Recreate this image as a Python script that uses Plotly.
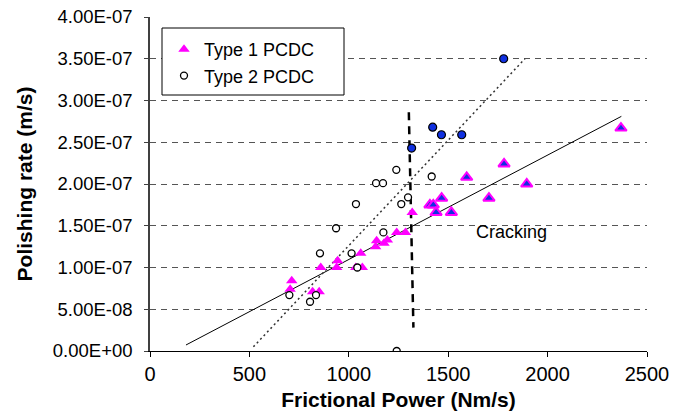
import plotly.graph_objects as go

# ---- data ----
t1_x = [713, 705, 818, 851, 859, 939, 944, 1035, 1068, 1060, 1135, 1140, 1177, 1194, 1241, 1285, 1319]
t1_y = [0.84e-7, 0.74e-7, 0.71e-7, 0.71e-7, 1.00e-7, 1.00e-7, 1.08e-7, 1.00e-7, 1.00e-7, 1.17e-7,
        1.25e-7, 1.32e-7, 1.29e-7, 1.33e-7, 1.42e-7, 1.42e-7, 1.66e-7]

t1c_x = [1408, 1425, 1439, 1467, 1516, 1593, 1705, 1781, 1895, 2369]
t1c_y = [1.75e-7, 1.75e-7, 1.66e-7, 1.83e-7, 1.66e-7, 2.08e-7, 1.83e-7, 2.24e-7, 2.00e-7, 2.67e-7]

t2_x = [701, 805, 835, 855, 936, 1014, 1036, 1043, 1137, 1172, 1174, 1239, 1241, 1264, 1298, 1417]
t2_y = [0.67e-7, 0.59e-7, 0.67e-7, 1.17e-7, 1.47e-7, 1.17e-7, 1.76e-7, 1.00e-7, 2.01e-7, 2.01e-7,
        1.42e-7, 2.17e-7, 0.0, 1.76e-7, 1.84e-7, 2.09e-7]

t2c_x = [1316, 1422, 1466, 1568, 1779]
t2c_y = [2.43e-7, 2.68e-7, 2.59e-7, 2.59e-7, 3.50e-7]

trend1_x = [181, 2371]
trend1_y = [0.072e-7, 2.81e-7]
trend2_x = [520, 1886]
trend2_y = [0.05e-7, 3.50e-7]
crack_x = [1302, 1325]
crack_y = [2.86e-7, 0.28e-7]

x_ticks = [0, 500, 1000, 1500, 2000, 2500]
y_ticks = [0, 0.5e-7, 1.0e-7, 1.5e-7, 2.0e-7, 2.5e-7, 3.0e-7, 3.5e-7, 4.0e-7]
y_tick_labels = ["0.00E+00", "5.00E-08", "1.00E-07", "1.50E-07", "2.00E-07",
                 "2.50E-07", "3.00E-07", "3.50E-07", "4.00E-07"]

FONT = "Liberation Sans, Arial, sans-serif"
MAGENTA = "#ff00ff"
BLUE = "#1030e0"

fig = go.Figure()

fig.add_trace(go.Scatter(x=trend1_x, y=trend1_y, mode="lines",
                         line=dict(color="black", width=1), showlegend=False, hoverinfo="skip"))
fig.add_trace(go.Scatter(x=trend2_x, y=trend2_y, mode="lines",
                         line=dict(color="#333333", width=1.5, dash="2px,3px"),
                         showlegend=False, hoverinfo="skip"))
fig.add_trace(go.Scatter(x=crack_x, y=crack_y, mode="lines",
                         line=dict(color="black", width=2.5, dash="8px,6px"),
                         showlegend=False, hoverinfo="skip"))

fig.add_trace(go.Scatter(x=t1_x, y=t1_y, mode="markers", name="Type 1 PCDC",
                         marker=dict(symbol="triangle-up", size=10, color=MAGENTA,
                                     line=dict(width=0))))
fig.add_trace(go.Scatter(x=t1c_x, y=t1c_y, mode="markers", name="Type 1 PCDC (cracked)",
                         showlegend=False,
                         marker=dict(symbol="triangle-up", size=10, color=BLUE,
                                     line=dict(width=2, color=MAGENTA))))
fig.add_trace(go.Scatter(x=t2_x, y=t2_y, mode="markers", name="Type 2 PCDC",
                         marker=dict(symbol="circle", size=7, color="white",
                                     line=dict(width=1.3, color="black"))))
fig.add_trace(go.Scatter(x=t2c_x, y=t2c_y, mode="markers", name="Type 2 PCDC (cracked)",
                         showlegend=False,
                         marker=dict(symbol="circle", size=8, color=BLUE,
                                     line=dict(width=1.2, color="black"))))

W, H = 688, 419
ml, mr, mt, mb = 150, 41, 17, 68
pw, ph = W - ml - mr, H - mt - mb

def px(xp):
    return (xp - ml) / pw

def py(yp):
    return 1 - (yp - mt) / ph

fig.add_shape(type="rect", xref="paper", yref="paper",
              x0=px(162), x1=px(344), y0=py(95), y1=py(28),
              line=dict(color="black", width=1), fillcolor="white", layer="above")

fig.add_annotation(x=1819, y=1.43e-7, text="Cracking", showarrow=False,
                   font=dict(family=FONT, size=18, color="black"),
                   xanchor="center", yanchor="middle")

fig.update_layout(
    width=W, height=H,
    margin=dict(l=ml, r=mr, t=mt, b=mb, autoexpand=False),
    paper_bgcolor="white", plot_bgcolor="white",
    font=dict(family=FONT, color="black"),
    legend=dict(x=px(164), y=py(31), xanchor="left", yanchor="top",
                bgcolor="rgba(0,0,0,0)", borderwidth=0, itemwidth=30,
                font=dict(family=FONT, size=18), tracegroupgap=0),
    showlegend=True,
)

fig.update_xaxes(
    range=[0, 2500], tickvals=x_ticks, ticktext=[str(v) for v in x_ticks],
    showgrid=False, zeroline=False, automargin=False,
    showline=True, linecolor="black", linewidth=1.2,
    ticks="outside", ticklen=5, tickcolor="black",
    tickfont=dict(family=FONT, size=20),
    title=dict(text="<b>Frictional Power (Nm/s)</b>", font=dict(family=FONT, size=21), standoff=8),
)
fig.update_yaxes(
    range=[0, 4e-7], tickvals=y_ticks, ticktext=y_tick_labels,
    showgrid=True, gridcolor="#555555", gridwidth=1, griddash="6px,5px",
    zeroline=False, automargin=False,
    showline=True, linecolor="#404040", linewidth=1.5,
    ticks="outside", ticklen=4, tickcolor="#404040",
    tickfont=dict(family=FONT, size=18.5), ticklabelstandoff=8,
    title=dict(text="<b>Polishing rate (m/s)</b>", font=dict(family=FONT, size=21), standoff=14),
)

fig.write_html("out.html", config={"displayModeBar": False},
               post_script="document.body.style.margin='0';")
